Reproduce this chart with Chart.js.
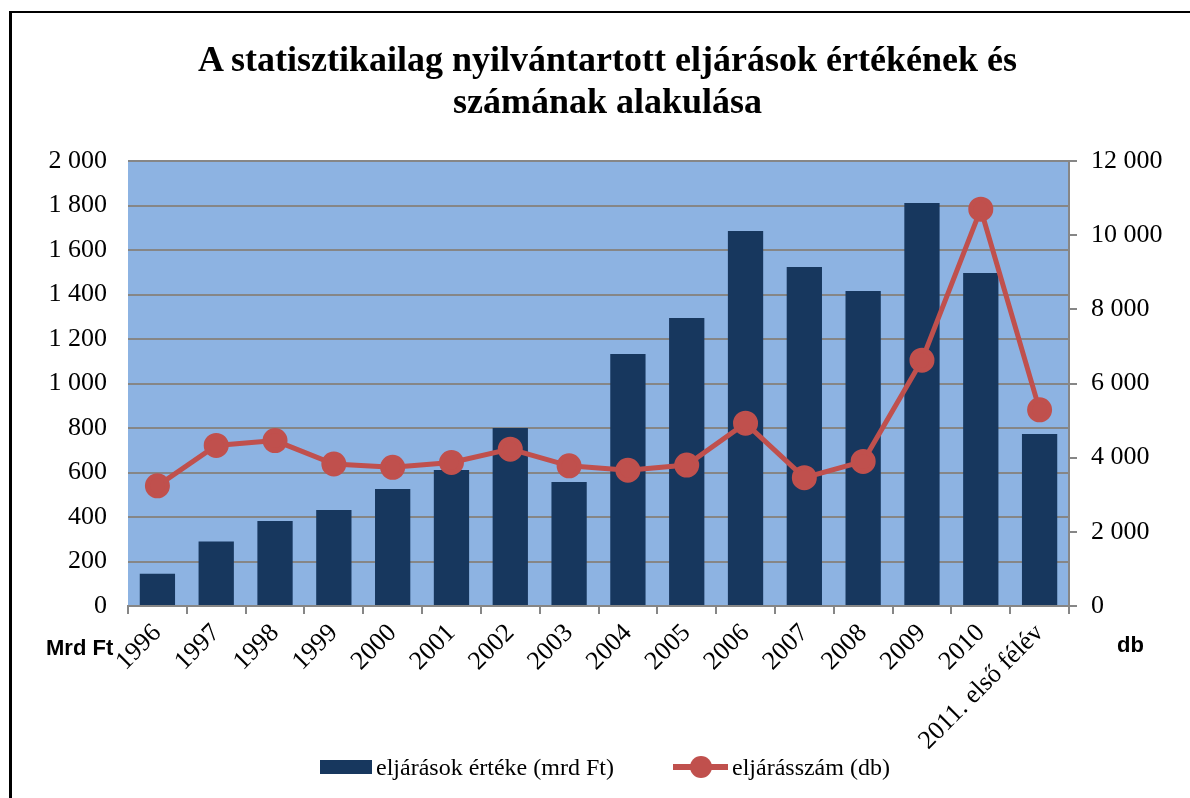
<!DOCTYPE html>
<html lang="hu">
<head>
<meta charset="utf-8">
<script src="https://cdn.jsdelivr.net/npm/chart.js@4.4.1/dist/chart.umd.min.js"></script>
<style>
    html, body { margin: 0; padding: 0; background: #fff; }
    #wrap { position: relative; width: 1190px; height: 798px; overflow: hidden; }
    #frame { position: absolute; left: 9px; top: 11px; width: 1300px; height: 900px;
             border-left: 3px solid #000; border-top: 2px solid #000; }
    #chart { position: absolute; left: 0; top: 0; }
    #title { position: absolute; left: 10px; width: 1195px; top: 38px; text-align: center;
             font: bold 36px "Liberation Serif"; line-height: 42px; color: #000; }
    .unit { position: absolute; font: bold 22px "Liberation Sans"; color: #000; }
    .legend-item { position: absolute; top: 752px; height: 30px; display: flex; align-items: center;
                   font: 24px "Liberation Serif"; color: #000; }
    .swatch-bar { width: 52px; height: 14px; background: #17375E; margin-right: 4px; }
    .swatch-line { position: relative; width: 55px; height: 22px; margin-right: 4px; }
    .swatch-line::before { content: ''; position: absolute; left: 0; right: 0; top: 8px; height: 6px; background: #C0504D; }
    .swatch-line::after { content: ''; position: absolute; left: 17px; top: 0; width: 22px; height: 22px;
                          border-radius: 50%; background: #C0504D; }
</style>
</head>
<body>
<div id="wrap">
    <div id="frame"></div>
    <canvas id="chart" width="1190" height="798"></canvas>
    <div id="title">A statisztikailag nyilvántartott eljárások értékének és<br>számának alakulása</div>
    <div class="unit" style="left:46px; top:635px;">Mrd Ft</div>
    <div class="unit" style="left:1117px; top:632px;">db</div>
    <div class="legend-item" style="left:320px;"><span class="swatch-bar"></span>eljárások értéke (mrd Ft)</div>
    <div class="legend-item" style="left:673px;"><span class="swatch-line"></span>eljárásszám (db)</div>
</div>
<script>
const categories = ['1996', '1997', '1998', '1999', '2000', '2001', '2002', '2003',
    '2004', '2005', '2006', '2007', '2008', '2009', '2010', '2011. első félév'];

// eljárások értéke, mrd Ft (bal tengely)
const procedureValues = [145, 290, 382, 431, 526, 611, 800, 557,
    1133, 1294, 1685, 1524, 1416, 1811, 1497, 773];

// eljárásszám, db (jobb tengely)
const procedureCounts = [3240, 4330, 4460, 3830, 3740, 3870, 4230, 3780,
    3660, 3800, 4930, 3460, 3900, 6630, 10700, 5290];

const leftAxisMax = 2000;
const leftAxisStep = 200;
const rightAxisMax = 12000;
const rightAxisStep = 2000;


function formatThousands(value) {
    return String(value).replace(/\B(?=(\d{3})+(?!\d))/g, ' ');
}


const plotBackground = {
    id: 'plotBackground',
    beforeDraw(chart) {
        const { ctx, chartArea } = chart;
        ctx.save();
        ctx.fillStyle = '#8DB3E2';
        ctx.fillRect(chartArea.left, chartArea.top,
            chartArea.right - chartArea.left, chartArea.bottom - chartArea.top);
        ctx.restore();
    }
};

const tickFont = { family: 'Liberation Serif', size: 26 };
const gridGray = '#868686';

new Chart(document.getElementById('chart'), {
    type: 'bar',
    data: {
        labels: categories,
        datasets: [
            {
                type: 'line',
                label: 'eljárásszám (db)',
                data: procedureCounts,
                yAxisID: 'y1',
                borderColor: '#C0504D',
                backgroundColor: '#C0504D',
                borderWidth: 5,
                pointRadius: 10,
                pointBackgroundColor: '#C0504D',
                pointBorderColor: '#C0504D',
                tension: 0,
                order: 0
            },
            {
                label: 'eljárások értéke (mrd Ft)',
                data: procedureValues,
                yAxisID: 'y',
                backgroundColor: '#17375E',
                barPercentage: 0.6,
                categoryPercentage: 1.0,
                order: 1
            }
        ]
    },
    options: {
        responsive: false,
        animation: false,
        devicePixelRatio: 1,
        layout: { padding: { top: 161, left: 0, right: 0, bottom: 0 } },
        plugins: {
            legend: { display: false },
            title: { display: false },
            tooltip: { enabled: false }
        },
        scales: {
            x: {
                offset: true,
                grid: {
                    drawOnChartArea: false,
                    drawTicks: true,
                    tickLength: 8,
                    color: gridGray,
                    lineWidth: 2,
                    offset: true
                },
                border: { display: true, color: gridGray, width: 2 },
                ticks: {
                    font: tickFont,
                    color: '#000',
                    maxRotation: 45,
                    minRotation: 45,
                    autoSkip: false,
                    padding: 4
                },
                afterFit(scale) { scale.height = 192; }
            },
            y: {
                position: 'left',
                min: 0,
                max: leftAxisMax,
                grid: { color: gridGray, lineWidth: 2, drawTicks: false },
                border: { display: false },
                ticks: {
                    stepSize: leftAxisStep,
                    font: tickFont,
                    color: '#000',
                    padding: 21,
                    callback: value => formatThousands(value)
                },
                afterFit(scale) { scale.width = 128; }
            },
            y1: {
                position: 'right',
                min: 0,
                max: rightAxisMax,
                grid: {
                    drawOnChartArea: false,
                    drawTicks: true,
                    tickLength: 8,
                    color: gridGray,
                    lineWidth: 2
                },
                border: { display: true, color: gridGray, width: 2 },
                ticks: {
                    stepSize: rightAxisStep,
                    font: tickFont,
                    color: '#000',
                    padding: 14,
                    callback: value => formatThousands(value)
                },
                afterFit(scale) { scale.width = 1190 - 1069; }
            }
        }
    },
    plugins: [plotBackground]
});
</script>
</body>
</html>
